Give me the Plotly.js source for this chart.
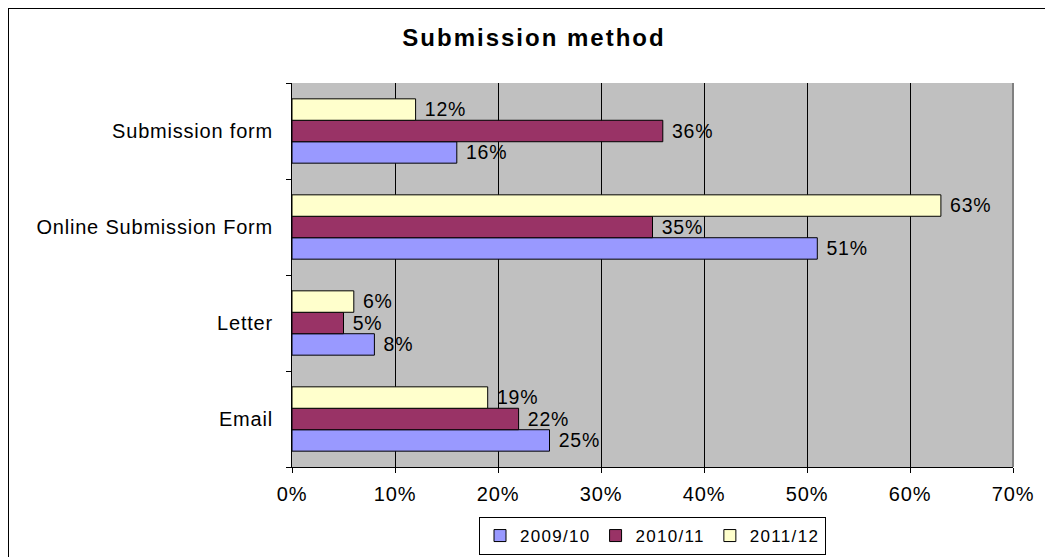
<!DOCTYPE html>
<html>
<head>
<meta charset="utf-8">
<script src="https://cdn.plot.ly/plotly-3.0.1.min.js"></script>
<style>
  html, body { margin: 0; padding: 0; background: #ffffff; }
  #wrap { position: relative; width: 1045px; height: 557px; overflow: hidden; }
  #chart { position: absolute; left: 0; top: 0; width: 1045px; height: 557px; }
  #frame { position: absolute; left: 8px; top: 8px; width: 1100px; height: 600px;
           border-top: 1px solid #000; border-left: 1px solid #000; pointer-events: none; }
  /* slightly wide lettering, as in the original chart */
  text { letter-spacing: 0.8px; }
  text.gtitle { letter-spacing: 2px; }
  text.legendtext { letter-spacing: 1.3px; }
</style>
</head>
<body>
<div id="wrap">
  <div id="chart"></div>
  <div id="frame"></div>
</div>
<script>
// Categories listed bottom to top
const categories = ['Email', 'Letter', 'Online Submission Form', 'Submission form'];
const seriesNames = ['2009/10', '2010/11', '2011/12'];
const values2009 = [0.25, 0.08, 0.51, 0.16];
const values2010 = [0.22, 0.05, 0.35, 0.36];
const values2011 = [0.19, 0.06, 0.63, 0.12];
const xTickVals = [0, 0.1, 0.2, 0.3, 0.4, 0.5, 0.6, 0.7];
const xTickText = ['0%', '10%', '20%', '30%', '40%', '50%', '60%', '70%'];

const colors = ['#9999FF', '#993366', '#FFFFCC'];
const font = 'Liberation Sans, Arial, sans-serif';

const seriesValues = [values2009, values2010, values2011];
const traces = seriesValues.map((vals, i) => ({
  type: 'bar',
  orientation: 'h',
  name: seriesNames[i],
  y: categories,
  x: vals,
  marker: { color: colors[i], line: { color: '#000000', width: 1 } },
  texttemplate: '\u00a0%{x:.0%}',
  textposition: 'outside',
  textfont: { family: font, size: 20, color: '#000000' },
  cliponaxis: false,
  hoverinfo: 'skip'
}));

const layout = {
  width: 1045,
  height: 557,
  margin: { l: 292, r: 32, t: 83, b: 90, autoexpand: false },
  paper_bgcolor: 'rgba(0,0,0,0)',
  plot_bgcolor: '#C0C0C0',
  barmode: 'group',
  bargap: 0.33,
  bargroupgap: 0,
  font: { family: font, size: 20, color: '#000000' },
  title: {
    text: '<b>Submission method</b>',
    font: { family: font, size: 24, color: '#000000' },
    xref: 'container', x: 0.511, xanchor: 'center',
    yref: 'container', y: 1 - 38 / 557, yanchor: 'middle'
  },
  xaxis: {
    range: [0, 0.7],
    tickvals: xTickVals,
    ticktext: xTickText,
    showgrid: true,
    gridcolor: '#000000',
    gridwidth: 1,
    zeroline: false,
    showline: true,
    linecolor: '#000000',
    linewidth: 1,
    ticks: 'outside',
    ticklen: 5,
    tickcolor: '#000000',
    ticklabelstandoff: 4,
    tickfont: { family: font, size: 20, color: '#000000' },
    automargin: false,
    fixedrange: true
  },
  yaxis: {
    type: 'category',
    categoryorder: 'array',
    categoryarray: categories,
    showgrid: false,
    zeroline: false,
    showline: true,
    linecolor: '#000000',
    linewidth: 1,
    ticks: 'outside',
    tickson: 'boundaries',
    ticklen: 5,
    tickcolor: '#000000',
    ticklabelstandoff: 14,
    tickfont: { family: font, size: 20, color: '#000000' },
    automargin: false,
    fixedrange: true
  },
  shapes: [
    { type: 'line', xref: 'paper', yref: 'paper', x0: 1, x1: 1, y0: 0, y1: 1,
      line: { color: '#808080', width: 2 } }
  ],
  showlegend: true,
  legend: {
    orientation: 'h',
    x: 0.5, xanchor: 'center',
    y: -88 / 384, yanchor: 'bottom',
    bgcolor: '#FFFFFF',
    bordercolor: '#000000',
    borderwidth: 1,
    font: { family: font, size: 17, color: '#000000' },
    traceorder: 'normal',
    itemwidth: 30
  }
};

Plotly.newPlot('chart', traces, layout, { displayModeBar: false, staticPlot: true });
</script>
</body>
</html>
